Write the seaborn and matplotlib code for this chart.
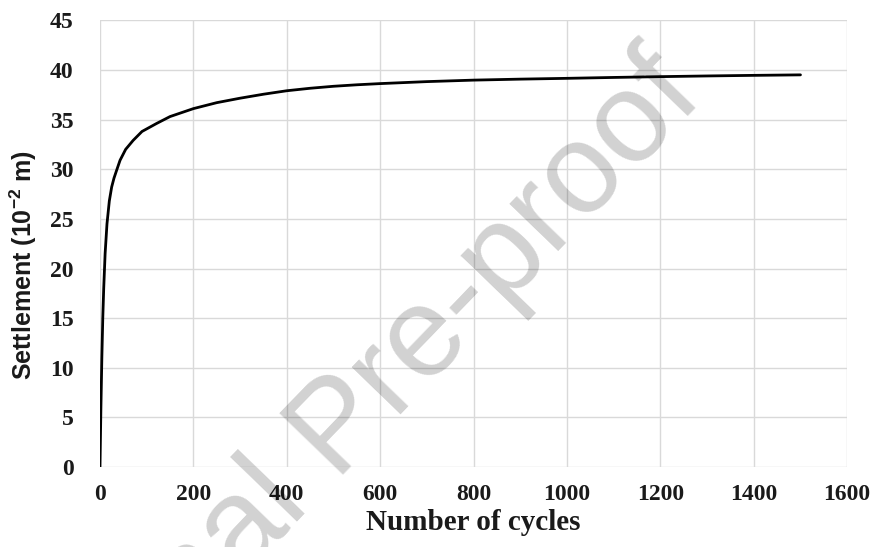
import matplotlib
matplotlib.use("Agg")
import matplotlib.pyplot as plt
import seaborn as sns
import pandas as pd

cycles = [0, 2, 4, 6, 8, 11, 15, 20, 25, 30, 35, 43, 55, 71, 90, 121, 150, 200,
          250, 300, 350, 400, 450, 500, 550, 600, 700, 800, 900, 1000, 1100,
          1200, 1300, 1400, 1500]
settlement = [0, 6, 11, 15, 18, 21.5, 24.5, 26.8, 28.2, 29.1, 29.8, 30.9, 32.0,
              32.9, 33.8, 34.6, 35.3, 36.1, 36.7, 37.15, 37.55, 37.9, 38.15, 38.35,
              38.5, 38.62, 38.82, 38.97, 39.07, 39.15, 39.24, 39.32, 39.39, 39.45,
              39.5]
x_ticks = [0, 200, 400, 600, 800, 1000, 1200, 1400, 1600]
y_ticks = [0, 5, 10, 15, 20, 25, 30, 35, 40, 45]

df = pd.DataFrame({"cycles": cycles, "settlement": settlement})

sns.set_theme(style="white")
plt.rcParams["mathtext.fontset"] = "custom"
plt.rcParams["mathtext.bf"] = "Liberation Sans:bold"
plt.rcParams["mathtext.rm"] = "Liberation Sans:bold"

fig = plt.figure(figsize=(8.77, 5.47), dpi=100)
ax = fig.add_axes([0.114, 0.146, 0.852, 0.817])

sns.lineplot(data=df, x="cycles", y="settlement", color="black", linewidth=2.0,
             sort=False, ax=ax, zorder=3)

ax.set_xlim(0, 1600)
ax.set_ylim(0, 45)
ax.set_xticks(x_ticks)
ax.set_yticks(y_ticks)
ax.grid(True, color="#d9d9d9", linewidth=1.0)
for s in ax.spines.values():
    s.set_visible(False)
ax.tick_params(length=0)
ax.tick_params(axis="y", pad=19)
ax.tick_params(axis="x", pad=12)
for lab in ax.get_xticklabels() + ax.get_yticklabels():
    lab.set_fontfamily("Liberation Serif")
    lab.set_fontweight("bold")
    lab.set_fontsize(17)
    lab.set_color("#1a1a1a")

ax.set_xlabel("Number of cycles", fontfamily="Liberation Serif", fontweight="bold",
              fontsize=21, color="#1a1a1a", labelpad=3)
ax.set_ylabel("Settlement (10$^{\\mathbf{-2}}$ m)", fontfamily="Liberation Sans",
              fontweight="bold", fontsize=18, color="#1a1a1a")
ax.yaxis.set_label_coords(-0.082, 0.452)

fig.text(0.805, 0.82, "Journal Pre-proof", fontfamily="Liberation Sans", fontsize=92,
         color="black", alpha=0.18, rotation=46, rotation_mode="anchor",
         ha="right", va="baseline", zorder=10)

fig.savefig("out.png", dpi=100, facecolor="white")
